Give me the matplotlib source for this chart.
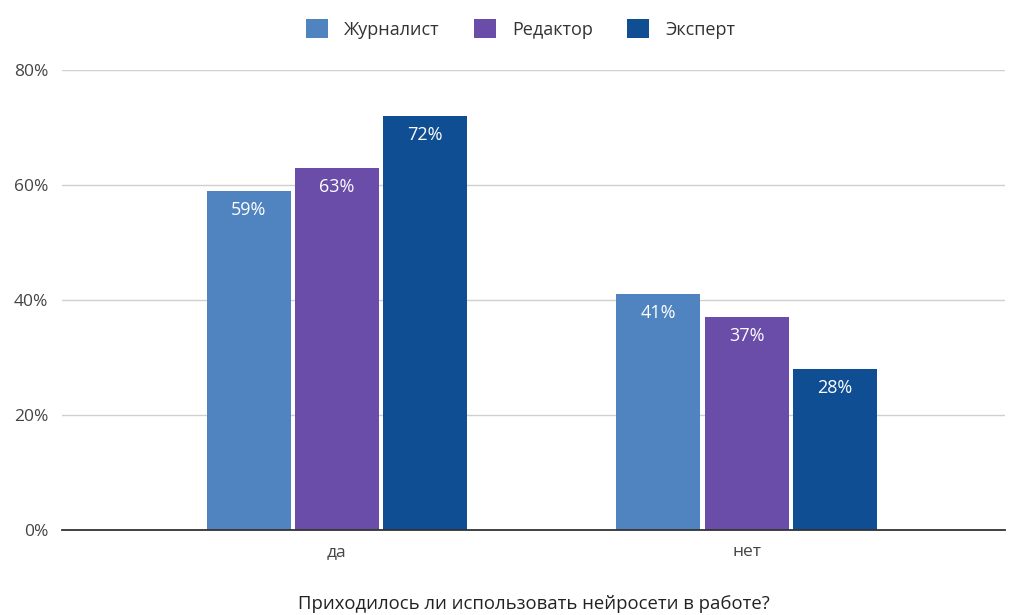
import numpy as np
import matplotlib.pyplot as plt

plt.rcParams['font.family'] = ['Open Sans', 'DejaVu Sans']

categories = ['да', 'нет']
series = ['Журналист', 'Редактор', 'Эксперт']
values = {
    'Журналист': [59, 41],
    'Редактор': [63, 37],
    'Эксперт': [72, 28],
}
colors = ['#5084c1', '#6a4ca9', '#0f4e93']

fig = plt.figure(figsize=(10.17, 6.15), dpi=100)
ax = fig.add_axes([0.061, 0.138, 0.927, 0.748])

x = np.arange(len(categories))
width = 0.205
step = 0.215
for i, (name, c) in enumerate(zip(series, colors)):
    pos = x + (i - 1) * step
    vals = np.array(values[name]) / 100
    bars = ax.bar(pos, vals, width, color=c, label=name, zorder=3)
    for b, v in zip(bars, values[name]):
        ax.text(b.get_x() + b.get_width() / 2, b.get_height() - 0.017, f'{v}%',
                ha='center', va='top', color='white', fontsize=13, zorder=4)

ax.set_xlim(-0.67, 1.63)
ax.set_ylim(0, 0.8)
ax.set_yticks([0, 0.2, 0.4, 0.6, 0.8])
ax.set_yticklabels(['0%', '20%', '40%', '60%', '80%'])
ax.set_xticks(x)
ax.set_xticklabels(categories)
ax.tick_params(axis='both', length=0, labelsize=12.5, labelcolor='#444444')
ax.tick_params(axis='x', pad=10)
ax.tick_params(axis='y', pad=10)
ax.grid(axis='y', color='#d0d0d0', linewidth=1, zorder=0)
for s in ['top', 'right', 'left']:
    ax.spines[s].set_visible(False)
ax.spines['bottom'].set_color('#333333')
ax.spines['bottom'].set_linewidth(1.3)
ax.spines['bottom'].set_zorder(5)

ax.set_xlabel('Приходилось ли использовать нейросети в работе?', fontsize=13.3,
              color='#222222', labelpad=25)

fig.legend(loc='upper center', bbox_to_anchor=(0.512, 0.995), ncol=3, frameon=False,
           fontsize=13, handlelength=1.2, handleheight=1.2, columnspacing=1.9,
           handletextpad=0.9, labelcolor='#333333')

fig.savefig('out.png', dpi=100, facecolor='white')
